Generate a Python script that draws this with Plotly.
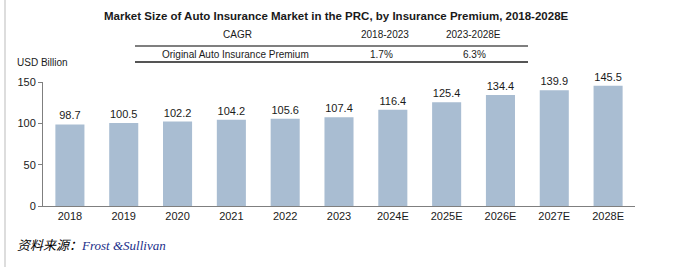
import plotly.graph_objects as go

categories = ["2018", "2019", "2020", "2021", "2022", "2023", "2024E", "2025E", "2026E", "2027E", "2028E"]
values = [98.7, 100.5, 102.2, 104.2, 105.6, 107.4, 116.4, 125.4, 134.4, 139.9, 145.5]
cagr_headers = ["CAGR", "2018-2023", "2023-2028E"]
cagr_row = ["Original Auto Insurance Premium", "1.7%", "6.3%"]

W, H = 696, 267
L, R, T, B = 43, 635, 82, 206  # plot area in pixels


def px(x):
    return (x - L) / (R - L)


def py(y):
    return (B - y) / (B - T)


FONT = "Liberation Sans, Arial, sans-serif"
TXT = "#1a1a1a"

fig = go.Figure(go.Bar(
    x=categories, y=values,
    marker=dict(color="#a9bdd2", line=dict(width=0)),
    text=[f"{v:.1f}" for v in values],
    textposition="outside",
    textfont=dict(size=11, color=TXT, family=FONT),
    cliponaxis=False,
))

fig.update_layout(
    width=W, height=H,
    margin=dict(l=L, r=W - R, t=T, b=H - B, autoexpand=False),
    paper_bgcolor="white", plot_bgcolor="white",
    showlegend=False,
    bargap=0.46,
    font=dict(family=FONT, color=TXT, size=11),
    xaxis=dict(
        showline=True, linecolor="#7f7f7f", linewidth=1,
        ticks="", tickfont=dict(size=11, color=TXT), showgrid=False,
    ),
    yaxis=dict(
        range=[0, 150], dtick=50, showgrid=False, zeroline=False,
        showline=True, linecolor="#7f7f7f", linewidth=1,
        ticks="outside", ticklen=4, tickcolor="#7f7f7f",
        tickfont=dict(size=11, color=TXT),
    ),
)

ann = []
ann.append(dict(text="<b>Market Size of Auto Insurance Market in the PRC, by Insurance Premium, 2018-2028E</b>",
                x=px(336), y=py(16), xref="paper", yref="paper", showarrow=False,
                xanchor="center", yanchor="middle", font=dict(size=11.5, color=TXT)))
hx = [237, 385, 473]
for t, x in zip(cagr_headers, hx):
    ann.append(dict(text=t, x=px(x), y=py(35), xref="paper", yref="paper", showarrow=False,
                    xanchor="center", yanchor="middle", font=dict(size=10, color=TXT)))
rx = [235, 381, 474]
for t, x in zip(cagr_row, rx):
    ann.append(dict(text=t, x=px(x), y=py(54), xref="paper", yref="paper", showarrow=False,
                    xanchor="center", yanchor="middle", font=dict(size=10, color=TXT)))
ann.append(dict(text="USD Billion", x=px(15), y=py(63), xref="paper", yref="paper", showarrow=False,
                xanchor="left", yanchor="middle", font=dict(size=10, color=TXT)))
ann.append(dict(text="<i>资料来源：<span style='color:#1b2f8a'>Frost &amp;Sullivan</span></i>",
                x=px(15), y=py(245), xref="paper", yref="paper", showarrow=False,
                xanchor="left", yanchor="middle",
                font=dict(size=13, color="#000000", family="Liberation Serif, Noto Sans CJK SC, serif")))
fig.update_layout(annotations=ann)

shapes = [
    dict(type="line", xref="paper", yref="paper", x0=px(135), x1=px(528), y0=py(46), y1=py(46),
         line=dict(color="#555555", width=1.3)),
    dict(type="line", xref="paper", yref="paper", x0=px(135), x1=px(528), y0=py(62), y1=py(62),
         line=dict(color="#555555", width=2)),
    dict(type="line", xref="paper", yref="paper", x0=px(5), x1=px(5), y0=py(0), y1=py(267),
         line=dict(color="#dddddd", width=2)),
]
fig.update_layout(shapes=shapes)

fig.write_html("out.html")
